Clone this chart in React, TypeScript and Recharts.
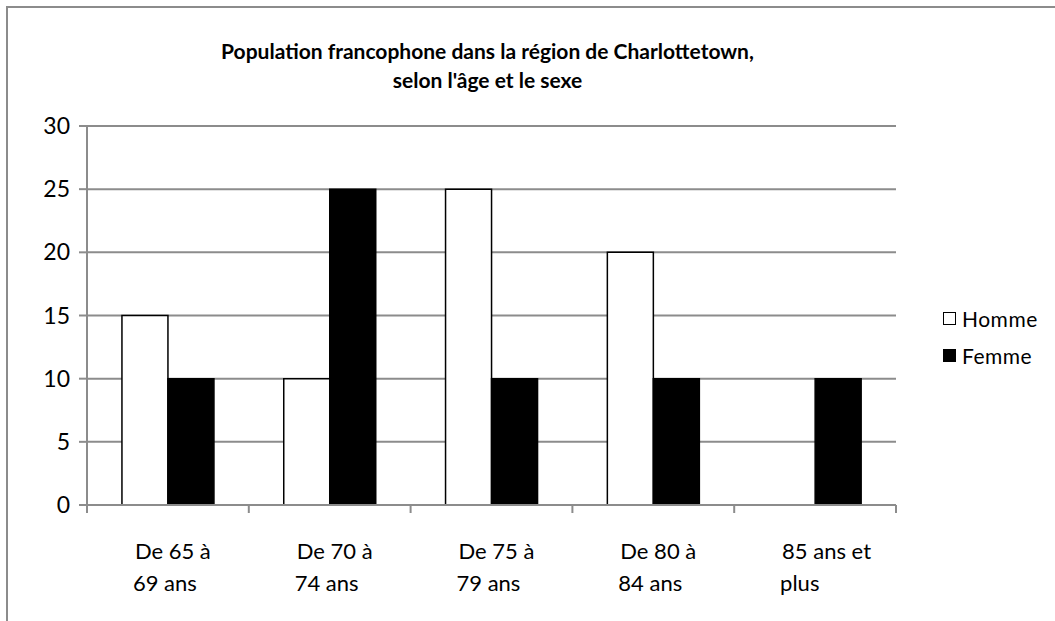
import { BarChart, Bar, XAxis, YAxis, CartesianGrid } from 'recharts';

const categories = ['De 65 à|69 ans', 'De 70 à|74 ans', 'De 75 à|79 ans', 'De 80 à|84 ans', '85 ans et|plus'];
const homme = [15, 10, 25, 20, null];
const femme = [10, 25, 10, 10, 10];
const yTicks = [0, 5, 10, 15, 20, 25, 30];
const seriesNames = ['Homme', 'Femme'];

const data = categories.map((c, i) => ({ age: c, Homme: homme[i], Femme: femme[i] }));

const FONT = 'Lato, "Open Sans", sans-serif';
const GRAY = '#8c8c8c';
const FILLS = ['#fff', '#000'];
const LABEL_GAP = 54;

// category label + the Excel-style tick marks on the category boundaries
function CategoryTick({ x, y, payload, index }: any) {
  const lines = String(payload.value).split('|');
  const half = payload.offset || 80.9;
  const axisY = y - LABEL_GAP;
  const edges = index === categories.length - 1 ? [x - half, x + half] : [x - half];
  return (
    <g>
      {edges.map((ex, i) => (
        <line key={i} x1={ex} x2={ex} y1={axisY} y2={axisY + 8} stroke={GRAY} strokeWidth={2} />
      ))}
      <text x={x - 35} y={y} fill="#000" fontSize={22} fontFamily={FONT} textAnchor="start">
        {lines.map((l, i) => (
          <tspan key={i} x={x - 35 + (i === 0 ? 2 : 0)} dy={i === 0 ? 0 : 32}>
            {l}
          </tspan>
        ))}
      </text>
    </g>
  );
}

function ChartLegend() {
  return (
    <div style={{ position: 'absolute', left: 943, top: 300, fontFamily: FONT, fontSize: 21 }}>
      {seriesNames.map((name, i) => (
        <div key={name} style={{ display: 'flex', alignItems: 'center', height: 37 }}>
          <span
            style={{
              width: 11,
              height: 11,
              background: FILLS[i],
              border: '1.5px solid #000',
              marginRight: 6,
              display: 'inline-block',
            }}
          />
          <span style={{ letterSpacing: 0.5 }}>{name}</span>
        </div>
      ))}
    </div>
  );
}

export default function App() {
  return (
    <div style={{ position: 'absolute', left: 0, top: 0, width: 1055, height: 621, background: '#fff', overflow: 'hidden' }}>
      <div
        style={{
          position: 'absolute',
          left: 6,
          top: 6,
          width: 1100,
          height: 700,
          borderTop: `2px solid ${GRAY}`,
          borderLeft: `2px solid ${GRAY}`,
        }}
      />
      <div
        style={{
          position: 'absolute',
          left: 0,
          top: 36,
          width: 975,
          textAlign: 'center',
          fontFamily: FONT,
          fontWeight: 'bold',
          fontSize: 21,
          lineHeight: '29px',
        }}
      >
        Population francophone dans la région de Charlottetown,
        <br />
        selon l'âge et le sexe
      </div>
      <div style={{ position: 'absolute', left: 0, top: 0 }}>
        <BarChart
          width={1055}
          height={621}
          data={data}
          margin={{ top: 126, right: 159, bottom: 0, left: 0 }}
          barCategoryGap="21.6%"
          barGap={0}
        >
          <CartesianGrid vertical={false} stroke={GRAY} strokeWidth={2} />
          <XAxis
            dataKey="age"
            tickLine={false}
            tickSize={0}
            axisLine={{ stroke: GRAY, strokeWidth: 2 }}
            tick={<CategoryTick />}
            tickMargin={LABEL_GAP}
            height={116}
            interval={0}
          />
          <YAxis
            domain={[0, 30]}
            ticks={yTicks}
            width={87}
            tickSize={8}
            tickMargin={9}
            tick={{ fill: '#000', fontSize: 23, fontFamily: FONT }}
            tickLine={{ stroke: GRAY, strokeWidth: 2 }}
            axisLine={{ stroke: GRAY, strokeWidth: 2 }}
            interval={0}
          />
          <Bar dataKey="Homme" fill={FILLS[0]} stroke="#000" strokeWidth={1.5} isAnimationActive={false} />
          <Bar dataKey="Femme" fill={FILLS[1]} stroke="#000" strokeWidth={1.5} isAnimationActive={false} />
        </BarChart>
      </div>
      <ChartLegend />
    </div>
  );
}
